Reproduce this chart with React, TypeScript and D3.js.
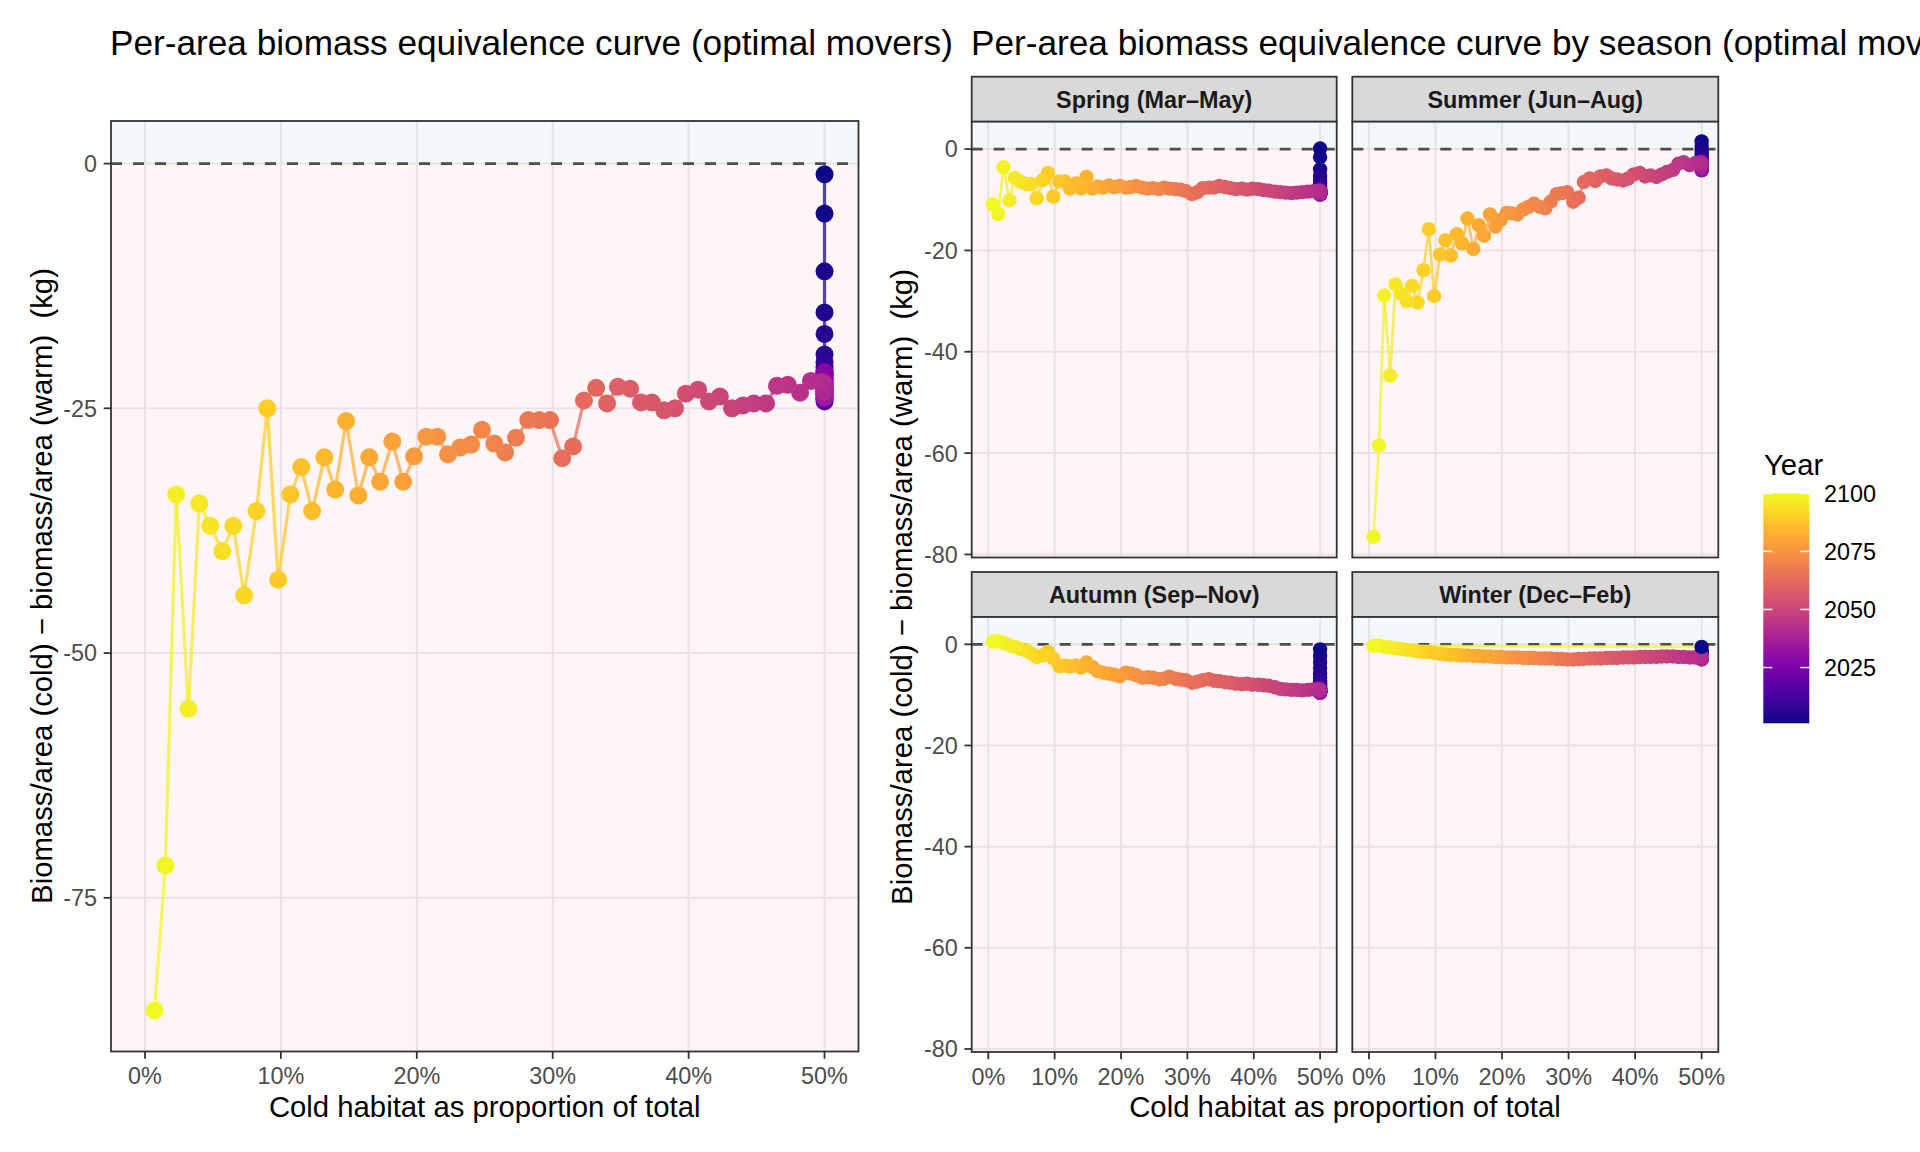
import { useEffect } from 'react';
import * as d3 from 'd3';

// every series below runs from 2100 back to 2001 (same order as `years`)
const years = d3.range(2100, 2000, -1);

// cold habitat share (%) per year
const coldShare = [
  0.7, 1.5, 2.3, 3.2, 4.0, 4.8, 5.7, 6.5, 7.3, 8.2,
  9.0, 9.8, 10.7, 11.5, 12.3, 13.2, 14.0, 14.8, 15.7, 16.5,
  17.3, 18.2, 19.0, 19.8, 20.7, 21.5, 22.3, 23.2, 24.0, 24.8,
  25.7, 26.5, 27.3, 28.2, 29.0, 29.8, 30.7, 31.5, 32.3, 33.2,
  34.0, 34.8, 35.7, 36.5, 37.3, 38.2, 39.0, 39.8, 40.7, 41.5,
  42.3, 43.2, 44.0, 44.8, 45.7, 46.5, 47.3, 48.2, 49.0, 49.8,
  50, 50, 50, 50, 50, 50, 50, 50, 50, 50,
  50, 50, 50, 50, 50, 50, 50, 50, 50, 50,
  50, 50, 50, 50, 50, 50, 50, 50, 50, 50,
  50, 50, 50, 50, 50, 50, 50, 50, 50, 50,
];

const overallDiff = [
  -86.5, -71.7, -33.8, -55.7, -34.7, -37.0, -39.6, -37.0, -44.1, -35.5,
  -25.0, -42.5, -33.8, -31.0, -35.5, -30.0, -33.3, -26.3, -33.9, -30.0,
  -32.5, -28.4, -32.5, -29.9, -27.9, -27.9, -29.7, -29.0, -28.7, -27.2,
  -28.6, -29.5, -28.0, -26.2, -26.2, -26.2, -30.1, -28.9, -24.2, -22.9,
  -24.5, -22.8, -23.0, -24.4, -24.4, -25.2, -25.0, -23.5, -23.1, -24.3,
  -23.8, -25.0, -24.7, -24.5, -24.5, -22.7, -22.6, -23.4, -22.2, -22.3,
  -23.3, -22.9, -22.5, -22.8, -23.1, -23.5, -23.9, -23.6, -23.2, -22.8,
  -22.4, -22.0, -21.6, -21.3, -21.5, -21.8, -22.1, -22.4, -22.7, -23.0,
  -23.3, -23.6, -24.0, -24.3, -24.0, -23.6, -23.2, -22.8, -22.4, -22.0,
  -21.6, -21.2, -20.8, -20.3, -19.5, -17.4, -15.2, -11.0, -5.1, -1.1,
];

const springDiff = [
  -10.9, -12.8, -3.6, -10.1, -5.7, -6.4, -6.9, -6.9, -9.7, -6.1,
  -4.7, -9.4, -6.4, -6.4, -7.8, -6.8, -7.8, -5.5, -7.8, -7.4,
  -7.6, -7.2, -7.5, -7.3, -7.6, -7.5, -7.3, -7.6, -7.8, -7.7,
  -7.9, -7.6, -7.8, -7.9, -8.0, -8.3, -8.9, -8.5, -7.7, -7.6,
  -7.6, -7.3, -7.5, -7.7, -7.9, -7.8, -8.0, -7.8, -7.9, -8.1,
  -8.2, -8.4, -8.5, -8.6, -8.7, -8.6, -8.5, -8.4, -8.3, -8.2,
  -8.4, -8.6, -8.8, -8.6, -8.4, -8.2, -8.4, -8.6, -8.8, -9.0,
  -8.9, -8.7, -8.5, -8.3, -8.1, -8.2, -8.3, -8.4, -8.5, -8.6,
  -8.7, -8.8, -8.9, -9.0, -8.9, -8.8, -8.7, -8.6, -8.5, -8.4,
  -8.2, -8.0, -7.7, -7.3, -6.8, -6.1, -5.3, -4.0, -1.6, 0.1,
];

const summerDiff = [
  -76.5, -58.5, -28.9, -44.7, -26.7, -28.5, -30.0, -27.0, -30.3, -23.9,
  -15.8, -29.0, -20.8, -18.0, -21.0, -16.8, -18.6, -13.7, -19.7, -15.0,
  -17.1, -12.9, -15.3, -14.0, -12.6, -12.7, -12.9, -11.9, -11.4, -10.8,
  -11.4, -11.7, -10.4, -8.9, -8.7, -8.5, -10.4, -9.6, -6.5, -5.8,
  -6.3, -5.4, -5.2, -5.8, -6.0, -6.2, -5.8, -5.0, -4.7, -5.4,
  -5.2, -5.5, -5.0, -4.5, -4.1, -2.9, -2.6, -3.2, -2.8, -2.6,
  -2.7, -2.9, -3.1, -3.3, -3.5, -3.7, -3.9, -4.1, -3.9, -3.7,
  -3.5, -3.3, -3.1, -2.9, -2.7, -2.5, -2.6, -2.8, -3.0, -3.2,
  -3.4, -3.6, -3.8, -4.0, -4.2, -4.1, -4.0, -3.8, -3.6, -3.4,
  -3.2, -2.9, -2.6, -2.3, -1.9, -1.4, -0.9, -0.3, 0.6, 1.5,
];

const autumnDiff = [
  0.5, 0.6, 0.3, -0.2, -0.5, -0.9, -1.2, -1.8, -2.5, -2.2,
  -1.5, -2.8, -4.3, -4.2, -4.4, -4.2, -4.6, -3.6, -4.5, -5.3,
  -5.6, -5.8, -6.0, -6.3, -5.6, -5.8, -6.1, -6.6, -6.5, -6.6,
  -6.9, -6.8, -6.4, -6.8, -7.0, -7.1, -7.6, -7.4, -7.1, -6.9,
  -7.2, -7.3, -7.5, -7.6, -7.8, -7.9, -7.8, -8.0, -8.0, -8.1,
  -8.2, -8.5, -8.8, -8.9, -9.0, -9.0, -9.1, -9.0, -8.9, -8.8,
  -9.0, -9.2, -9.3, -9.1, -9.0, -9.2, -9.4, -9.6, -9.5, -9.3,
  -9.1, -8.9, -8.8, -9.0, -9.2, -9.4, -9.5, -9.3, -9.1, -8.9,
  -9.0, -9.2, -9.4, -9.6, -9.5, -9.4, -9.2, -9.0, -8.8, -8.6,
  -8.4, -8.1, -7.7, -7.2, -6.5, -5.8, -4.7, -3.5, -2.3, -1.0,
];

const winterDiff = [
  -0.3, -0.2, -0.5, -0.6, -0.8, -0.9, -1.1, -1.2, -1.4, -1.5,
  -1.5, -1.7, -1.9, -2.0, -2.1, -2.1, -2.2, -2.2, -2.3, -2.3,
  -2.4, -2.4, -2.5, -2.5, -2.6, -2.6, -2.6, -2.7, -2.7, -2.7,
  -2.8, -2.8, -2.8, -2.9, -2.9, -3.0, -3.0, -2.9, -2.9, -2.8,
  -2.8, -2.8, -2.7, -2.7, -2.7, -2.6, -2.6, -2.6, -2.5, -2.5,
  -2.5, -2.5, -2.4, -2.4, -2.4, -2.5, -2.5, -2.6, -2.6, -2.5,
  -2.6, -2.8, -2.9, -2.7, -2.5, -2.6, -2.8, -3.0, -2.9, -2.7,
  -2.6, -2.5, -2.7, -2.9, -2.8, -2.6, -2.4, -2.5, -2.7, -2.8,
  -2.6, -2.4, -2.3, -2.5, -2.7, -2.6, -2.4, -2.2, -2.3, -2.5,
  -2.3, -2.2, -2.1, -2.0, -1.9, -1.8, -1.7, -1.6, -1.5, -0.5,
];

const seasons = [
  { label: 'Spring (Mar–May)', values: springDiff, firstLast: false },
  { label: 'Summer (Jun–Aug)', values: summerDiff, firstLast: false },
  { label: 'Autumn (Sep–Nov)', values: autumnDiff, firstLast: false },
  // winter's first season comes last in the source series
  { label: 'Winter (Dec–Feb)', values: winterDiff, firstLast: true },
];

const xTicks = [0, 10, 20, 30, 40, 50];
const overallYTicks = [0, -25, -50, -75];
const seasonYTicks = [0, -20, -40, -60, -80];
const legendTicks = [2025, 2050, 2075, 2100];

const FONT = '"Liberation Sans", Arial, Helvetica, sans-serif';
const color = d3.scaleSequential(d3.interpolatePlasma).domain([2001, 2100]);

type Pt = { year: number; x: number; y: number };

function buildPoints(values: number[], firstLast = false): Pt[] {
  const pts = years
    .map((year, i) => ({ year, x: coldShare[i], y: values[i] }))
    .sort((a, b) => a.year - b.year);
  if (firstLast) pts.push(pts.shift()!);
  return pts;
}

interface PanelProps {
  x0: number; x1: number; y0: number; y1: number;
  yDomain: [number, number];
  yTicks: number[];
  points: Pt[];
  r: number;
  lw: number;
  showX: boolean;
  showY: boolean;
}

function Panel({ x0, x1, y0, y1, yDomain, yTicks, points, r, lw, showX, showY }: PanelProps) {
  const xs = d3.scaleLinear().domain([-2.5, 52.5]).range([x0, x1]);
  const ys = d3.scaleLinear().domain(yDomain).range([y1, y0]);
  const zero = ys(0);
  const segs = d3.pairs(points);
  return (
    <g>
      <rect x={x0} y={y0} width={x1 - x0} height={y1 - y0} fill="#ffffff" />
      {xTicks.map((t) => (
        <line key={'gx' + t} x1={xs(t)} x2={xs(t)} y1={y0} y2={y1} stroke="#ebebeb" strokeWidth={2} />
      ))}
      {yTicks.map((t) => (
        <line key={'gy' + t} x1={x0} x2={x1} y1={ys(t)} y2={ys(t)} stroke="#ebebeb" strokeWidth={2} />
      ))}
      <rect x={x0} y={y0} width={x1 - x0} height={zero - y0} fill="#2171b5" fillOpacity={0.05} />
      <rect x={x0} y={zero} width={x1 - x0} height={y1 - zero} fill="#e41a1c" fillOpacity={0.04} />
      <line x1={x0} x2={x1} y1={zero} y2={zero} stroke="#4d4d4d" strokeWidth={2.7} strokeDasharray="11 11" />
      {segs.map(([a, b], i) => (
        <line
          key={'s' + i}
          x1={xs(a.x)} y1={ys(a.y)} x2={xs(b.x)} y2={ys(b.y)}
          stroke={color(a.year)} strokeOpacity={0.72} strokeWidth={lw} strokeLinecap="round"
        />
      ))}
      {points.map((p) => (
        <circle key={'p' + p.year} cx={xs(p.x)} cy={ys(p.y)} r={r} fill={color(p.year)} />
      ))}
      <rect x={x0} y={y0} width={x1 - x0} height={y1 - y0} fill="none" stroke="#333333" strokeWidth={1.8} />
      {showY &&
        yTicks.map((t) => (
          <g key={'ty' + t}>
            <line x1={x0 - 7.3} x2={x0} y1={ys(t)} y2={ys(t)} stroke="#333333" strokeWidth={1.8} />
            <text x={x0 - 14} y={ys(t)} dy="0.36em" textAnchor="end" fontSize={23.4} fill="#4d4d4d">
              {t}
            </text>
          </g>
        ))}
      {showX &&
        xTicks.map((t) => (
          <g key={'tx' + t}>
            <line x1={xs(t)} x2={xs(t)} y1={y1} y2={y1 + 7.3} stroke="#333333" strokeWidth={1.8} />
            <text x={xs(t)} y={y1 + 32.5} textAnchor="middle" fontSize={23.4} fill="#4d4d4d">
              {t + '%'}
            </text>
          </g>
        ))}
    </g>
  );
}

const yTitle = 'Biomass/area (cold) − biomass/area (warm)  (kg)';
const xTitle = 'Cold habitat as proportion of total';

export default function App() {
  useEffect(() => {
    document.body.style.margin = '0';
  }, []);

  const overallPts = buildPoints(overallDiff);
  const cols = [
    [971.7, 1336.7],
    [1352.3, 1718.3],
  ];
  const rows = [
    { s0: 76.7, p0: 121.7, p1: 557.5 },
    { s0: 572, p0: 617, p1: 1052 },
  ];

  const legY = d3.scaleLinear().domain([2001, 2100]).range([723.3, 493.3]);
  const lx0 = 1763.3;
  const lw = 46;
  const stops = d3.range(0, 1.0001, 0.05);

  return (
    <svg width={1920} height={1152} style={{ display: 'block', fontFamily: FONT }}>
      <rect width={1920} height={1152} fill="#ffffff" />
      <defs>
        <linearGradient id="yearGrad" x1="0" y1="1" x2="0" y2="0">
          {stops.map((t) => (
            <stop key={t} offset={t} stopColor={d3.interpolatePlasma(t)} />
          ))}
        </linearGradient>
      </defs>

      {/* left: all seasons */}
      <text x={110} y={55} fontSize={35.2} fill="#000">
        Per-area biomass equivalence curve (optimal movers)
      </text>
      <Panel
        x0={111} x1={858.5} y0={121} y1={1051.5}
        yDomain={[-90.7, 4.35]} yTicks={overallYTicks}
        points={overallPts} r={9} lw={3.2} showX showY
      />
      <text x={484.7} y={1117} textAnchor="middle" fontSize={29.3}>{xTitle}</text>
      <text
        transform="translate(51.7,586) rotate(-90)" textAnchor="middle" fontSize={29.3}
        style={{ whiteSpace: 'pre' }}
      >
        {yTitle}
      </text>

      {/* right: by season */}
      <text x={971} y={55} fontSize={35.2} fill="#000">
        Per-area biomass equivalence curve by season (optimal movers)
      </text>
      {seasons.map((s, i) => {
        const [cx0, cx1] = cols[i % 2];
        const row = rows[Math.floor(i / 2)];
        return (
          <g key={s.label}>
            <rect
              x={cx0} y={row.s0} width={cx1 - cx0} height={row.p0 - row.s0}
              fill="#d9d9d9" stroke="#333333" strokeWidth={1.8}
            />
            <text
              x={(cx0 + cx1) / 2} y={(row.s0 + row.p0) / 2} dy="0.36em" textAnchor="middle"
              fontSize={23.4} fontWeight="bold" fill="#1a1a1a"
            >
              {s.label}
            </text>
            <Panel
              x0={cx0} x1={cx1} y0={row.p0} y1={row.p1}
              yDomain={[-80.6, 5.4]} yTicks={seasonYTicks}
              points={buildPoints(s.values, s.firstLast)} r={7.2} lw={2.7}
              showX={i >= 2} showY={i % 2 === 0}
            />
          </g>
        );
      })}
      <text x={1345} y={1117} textAnchor="middle" fontSize={29.3}>{xTitle}</text>
      <text
        transform="translate(912.4,587) rotate(-90)" textAnchor="middle" fontSize={29.3}
        style={{ whiteSpace: 'pre' }}
      >
        {yTitle}
      </text>

      {/* legend */}
      <text x={1764} y={475} fontSize={29.3}>Year</text>
      <rect x={lx0} y={legY(2100)} width={lw} height={legY(2001) - legY(2100)} fill="url(#yearGrad)" />
      {legendTicks.map((t) => (
        <g key={'lg' + t}>
          <line x1={lx0} x2={lx0 + 9} y1={legY(t)} y2={legY(t)} stroke="#ffffff" strokeWidth={1.5} />
          <line x1={lx0 + lw - 9} x2={lx0 + lw} y1={legY(t)} y2={legY(t)} stroke="#ffffff" strokeWidth={1.5} />
          <text x={1824} y={legY(t)} dy="0.36em" fontSize={23.4} fill="#000">{t}</text>
        </g>
      ))}
    </svg>
  );
}
